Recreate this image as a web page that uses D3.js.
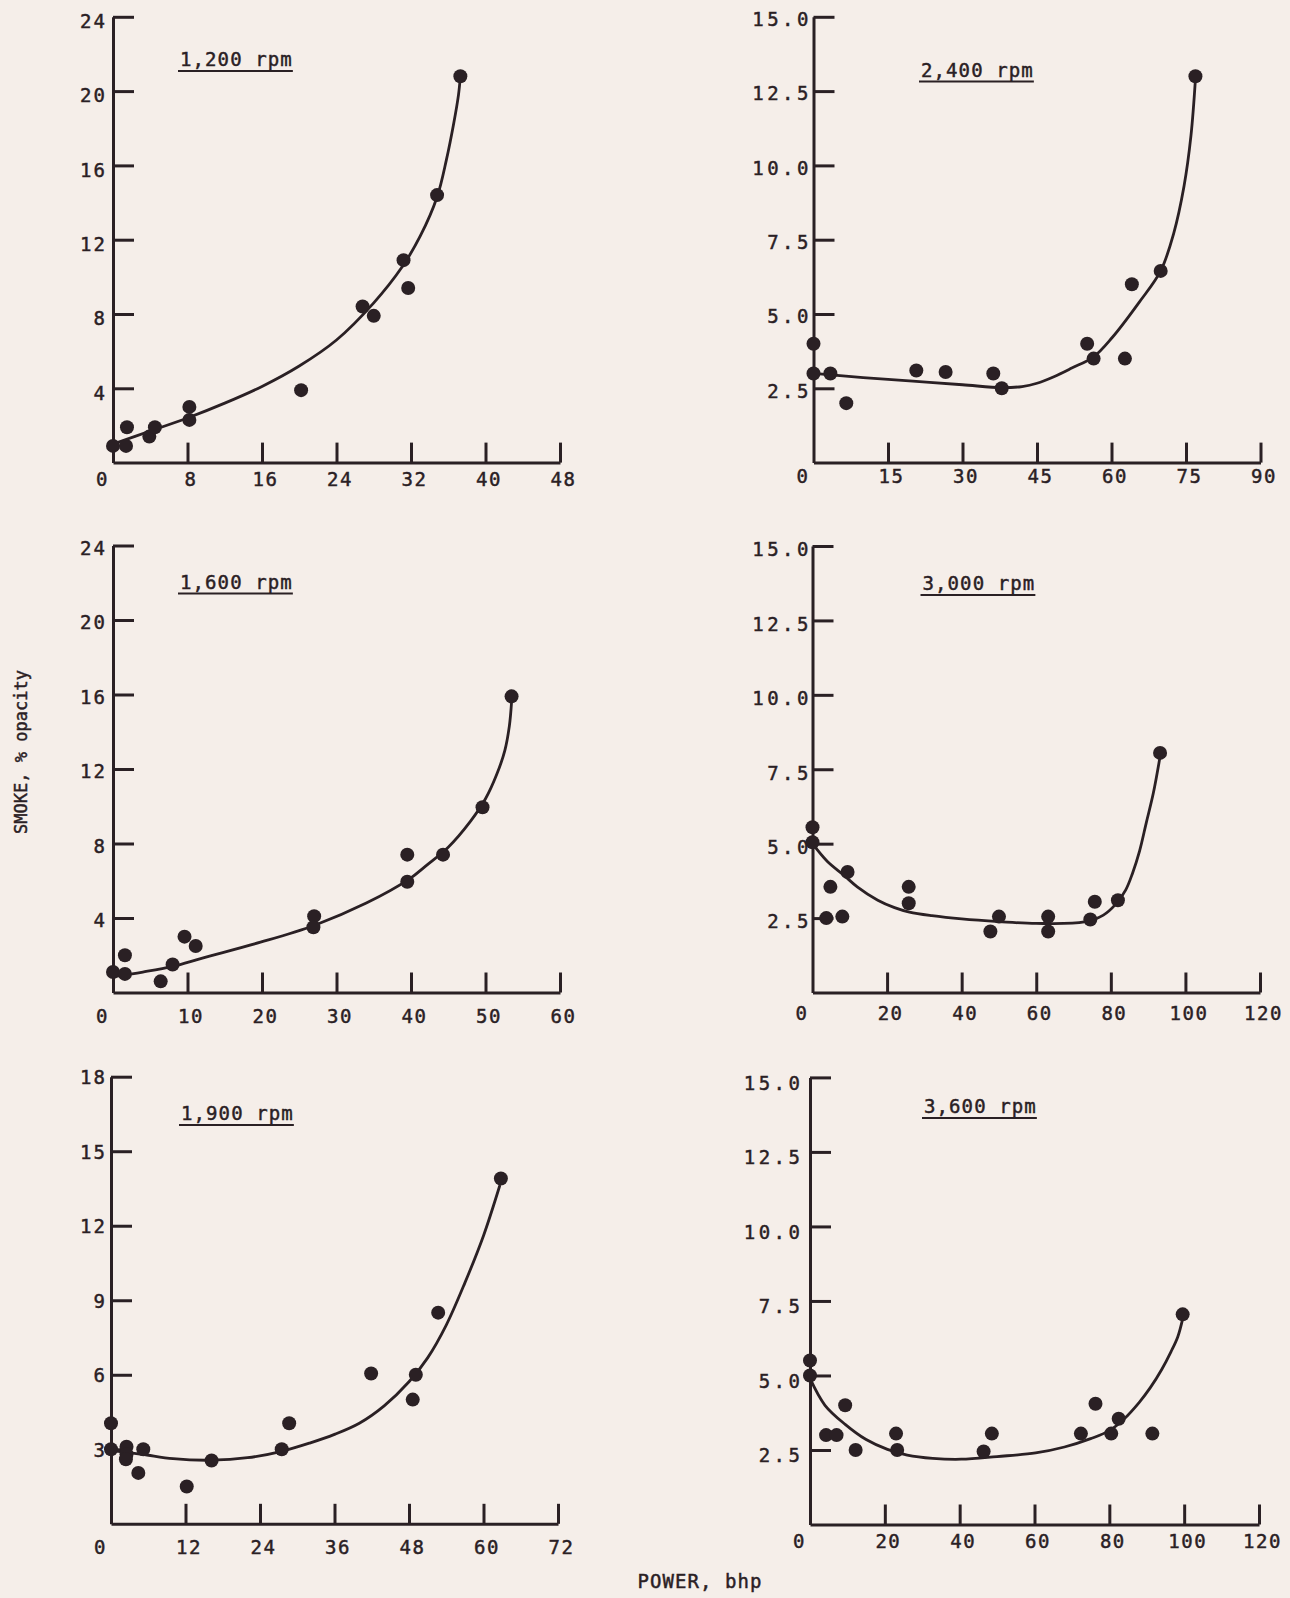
<!DOCTYPE html>
<html>
<head>
<meta charset="utf-8">
<script src="https://cdn.jsdelivr.net/npm/d3@7"></script>
<style>
  html, body { margin: 0; padding: 0; background: #f5eee9; }
  svg { display: block; }
</style>
</head>
<body>
<svg id="chart" width="1290" height="1598"></svg>
<script>
// Smoke opacity versus brake power, one panel per engine speed.
// Each panel: measured points [power bhp, smoke %], the faired curve, and axis ticks.

// 1,200 rpm
const points1200 = [[0, 0.9], [1.4, 0.9], [1.5, 1.9], [3.9, 1.4], [4.5, 1.9], [8.2, 3.0], [8.2, 2.3],
  [20.2, 3.9], [26.8, 8.4], [28.0, 7.9], [31.2, 10.9], [31.7, 9.4], [34.8, 14.4], [37.3, 20.8]];
const fit1200 = [[0, 1.0], [4, 1.7], [8, 2.4], [12, 3.2], [16, 4.1], [20, 5.2], [24, 6.6], [28, 8.6],
  [31, 10.5], [33, 12.2], [34.8, 14.3], [35.8, 16.3], [36.6, 18.3], [37.1, 19.8], [37.3, 20.8]];
const xTicks1200 = [0, 8, 16, 24, 32, 40, 48];
const yTicks1200 = [4, 8, 12, 16, 20, 24];

// 2,400 rpm
const points2400 = [[0, 4.0], [0, 3.0], [3.4, 3.0], [6.6, 2.0], [20.7, 3.1], [26.6, 3.05], [36.2, 3.0],
  [37.9, 2.5], [55.1, 4.0], [56.4, 3.5], [62.7, 3.5], [64.1, 6.0], [69.9, 6.45], [76.9, 13.0]];
const fit2400 = [[0, 3.0], [10, 2.86], [20, 2.74], [30, 2.62], [37.9, 2.52], [42, 2.56], [45, 2.67],
  [48.4, 2.89], [52, 3.18], [56.4, 3.56], [60.1, 4.2], [65.6, 5.4], [69.9, 6.45], [72.5, 7.7],
  [74.6, 9.3], [76.0, 11.0], [76.9, 12.9]];
const xTicks2400 = [0, 15, 30, 45, 60, 75, 90];
const yTicks2400 = [2.5, 5.0, 7.5, 10.0, 12.5, 15.0];

// 1,600 rpm
const points1600 = [[0, 1.1], [1.6, 1.0], [1.6, 2.0], [6.4, 0.6], [8.0, 1.5], [9.6, 3.0], [11.1, 2.5],
  [27.0, 4.1], [26.9, 3.5], [39.5, 7.4], [39.5, 5.95], [44.3, 7.4], [49.6, 9.95], [53.5, 15.9]];
const fit1600 = [[0, 0.85], [4, 1.1], [8, 1.4], [12, 1.85], [19.8, 2.7], [27, 3.6], [34, 4.8],
  [39.8, 6.1], [42, 6.8], [45, 7.8], [48, 9.2], [50, 10.4], [51.5, 11.7], [52.6, 13.0],
  [53.2, 14.3], [53.5, 15.6]];
const xTicks1600 = [0, 10, 20, 30, 40, 50, 60];
const yTicks1600 = [4, 8, 12, 16, 20, 24];

// 3,000 rpm
const points3000 = [[0, 5.55], [0, 5.05], [4.8, 3.55], [9.4, 4.05], [3.7, 2.5], [8.0, 2.55], [25.8, 3.55],
  [25.8, 3.0], [47.7, 2.05], [50.0, 2.55], [63.2, 2.55], [63.2, 2.05], [74.5, 2.45], [75.7, 3.05],
  [81.9, 3.1], [93.2, 8.05]];
const fit3000 = [[0, 5.0], [4, 4.4], [8.3, 3.95], [12, 3.55], [17.5, 3.1], [22, 2.85], [26, 2.7],
  [32, 2.58], [40, 2.47], [50, 2.38], [60, 2.32], [72.9, 2.37], [78, 2.6], [81.2, 2.95], [84, 3.45],
  [85.8, 4.0], [87.7, 4.75], [89.5, 5.7], [91.4, 6.7], [93.1, 7.85]];
const xTicks3000 = [0, 20, 40, 60, 80, 100, 120];
const yTicks3000 = [2.5, 5.0, 7.5, 10.0, 12.5, 15.0];

// 1,900 rpm
const points1900 = [[0, 4.05], [0, 3.0], [2.5, 3.1], [2.5, 2.8], [2.4, 2.6], [5.2, 3.0], [4.4, 2.05],
  [12.2, 1.5], [16.2, 2.55], [27.5, 3.0], [28.7, 4.05], [41.9, 6.05], [48.6, 5.0], [49.1, 6.0],
  [52.7, 8.5], [62.8, 13.9]];
const fit1900 = [[0, 2.95], [5, 2.8], [10, 2.62], [16.2, 2.56], [22, 2.66], [27.5, 2.92], [32, 3.25],
  [36, 3.6], [40, 4.05], [44, 4.75], [48, 5.72], [51, 6.68], [54, 8.0], [57, 9.7], [60, 11.6],
  [62.6, 13.6]];
const xTicks1900 = [0, 12, 24, 36, 48, 60, 72];
const yTicks1900 = [3, 6, 9, 12, 15, 18];

// 3,600 rpm
const points3600 = [[0, 5.5], [0, 5.0], [4.3, 3.0], [7.1, 3.0], [9.4, 4.0], [12.2, 2.5], [23.0, 3.05],
  [23.3, 2.5], [46.4, 2.45], [48.6, 3.05], [72.4, 3.05], [76.3, 4.05], [80.5, 3.05], [82.5, 3.55],
  [91.5, 3.05], [99.6, 7.05]];
const fit3600 = [[0, 4.9], [4, 4.0], [9.4, 3.36], [15, 2.85], [20.7, 2.52], [26, 2.33], [32.8, 2.22],
  [40.4, 2.19], [50, 2.28], [60.3, 2.4], [68, 2.6], [75, 2.88], [80, 3.15], [84, 3.55], [88, 4.1],
  [91, 4.6], [94, 5.2], [96.5, 5.8], [98.3, 6.3], [99.6, 6.9]];
const xTicks3600 = [0, 20, 40, 60, 80, 100, 120];
const yTicks3600 = [2.5, 5.0, 7.5, 10.0, 12.5, 15.0];

const yTitle = "SMOKE, % opacity";
const xTitle = "POWER, bhp";

// ---------------------------------------------------------------------------
const ink = "#2a2024";
const mono = "'DejaVu Sans Mono', 'Liberation Mono', monospace";
const intFmt = d3.format("d");
const decFmt = d3.format(".1f");
const fs = 19;

// Page placement of each panel (pixel boxes and label offsets).
const panels = [
  { title: "1,200 rpm", points: points1200, fit: fit1200, xTicks: xTicks1200, yTicks: yTicks1200, yFmt: intFmt,
    xr: [113, 560], yr: [462.6, 16.8], titlePos: [180, 66], xLabDy: 17, yGap: 8, yLabDy: 4, yLs: 2 },
  { title: "2,400 rpm", points: points2400, fit: fit2400, xTicks: xTicks2400, yTicks: yTicks2400, yFmt: decFmt,
    xr: [813.5, 1260.5], yr: [462.6, 16.8], titlePos: [921, 76.5], xLabDy: 14, yGap: 5, yLabDy: 2, yLs: 3.5 },
  { title: "1,600 rpm", points: points1600, fit: fit1600, xTicks: xTicks1600, yTicks: yTicks1600, yFmt: intFmt,
    xr: [113, 560], yr: [992.5, 545.5], titlePos: [180, 588.5], xLabDy: 24, yGap: 8, yLabDy: 2, yLs: 2 },
  { title: "3,000 rpm", points: points3000, fit: fit3000, xTicks: xTicks3000, yTicks: yTicks3000, yFmt: decFmt,
    xr: [812.5, 1260], yr: [992.5, 546], titlePos: [922.5, 590], xLabDy: 21, yGap: 4, yLabDy: 3, yLs: 3.5 },
  { title: "1,900 rpm", points: points1900, fit: fit1900, xTicks: xTicks1900, yTicks: yTicks1900, yFmt: intFmt,
    xr: [111, 558], yr: [1523.8, 1076.7], titlePos: [181, 1120], xLabDy: 23, yGap: 6, yLabDy: 0, yLs: 2 },
  { title: "3,600 rpm", points: points3600, fit: fit3600, xTicks: xTicks3600, yTicks: yTicks3600, yFmt: decFmt,
    xr: [810, 1259], yr: [1524.5, 1077.4], titlePos: [924, 1113], xLabDy: 17, yGap: 10, yLabDy: 5, yLs: 3.5 }
];

const svg = d3.select("#chart");
svg.append("rect").attr("width", 1290).attr("height", 1598).attr("fill", "#f5eee9");

// typewriter-like lettering: mono face with a hairline stroke for weight
function letter(sel, size, ls) {
  return sel.attr("font-family", mono).attr("font-size", size).attr("letter-spacing", ls)
    .attr("fill", ink).attr("stroke", ink).attr("stroke-width", 0.45);
}

panels.forEach(p => {
  const x = d3.scaleLinear().domain([0, d3.max(p.xTicks)]).range(p.xr);
  const y = d3.scaleLinear().domain([0, d3.max(p.yTicks)]).range(p.yr);
  const g = svg.append("g").style("color", ink);

  // vertical axis: ticks point inward, labels to the left
  const ya = g.append("g")
    .attr("transform", `translate(${x(0)},0)`)
    .call(d3.axisLeft(y).tickValues(p.yTicks).tickFormat(p.yFmt)
      .tickSizeInner(-21).tickSizeOuter(0).tickPadding(p.yGap - p.yLs));
  ya.select(".domain").attr("stroke-width", 3);
  ya.selectAll(".tick line").attr("stroke-width", 3);
  letter(ya.selectAll(".tick text"), fs, p.yLs)
    .attr("y", p.yLabDy).attr("dy", "0.36em");

  // horizontal axis: ticks point upward, labels below
  const xa = g.append("g")
    .attr("transform", `translate(0,${y(0)})`)
    .call(d3.axisBottom(x).tickValues(p.xTicks).tickFormat(intFmt)
      .tickSizeInner(-20).tickSizeOuter(0).tickPadding(0));
  xa.select(".domain").attr("stroke-width", 3);
  xa.selectAll(".tick line").attr("stroke-width", 3);
  xa.selectAll(".tick").filter(d => d === 0).select("line").remove();
  letter(xa.selectAll(".tick text"), fs, 1.5)
    .attr("y", p.xLabDy).attr("dy", "0.36em")
    .attr("dx", d => d === 0 ? -11 : 3);

  // faired curve
  const line = d3.line().x(d => x(d[0])).y(d => y(d[1])).curve(d3.curveCatmullRom.alpha(0.5));
  g.append("path").datum(p.fit)
    .attr("d", line).attr("fill", "none").attr("stroke", ink)
    .attr("stroke-width", 2.8).attr("stroke-linecap", "round").attr("stroke-linejoin", "round");

  // measured points
  g.selectAll("circle.pt").data(p.points).join("circle")
    .attr("class", "pt")
    .attr("cx", d => x(d[0])).attr("cy", d => y(d[1])).attr("r", 7)
    .attr("fill", ink);

  // underlined speed label
  const t = letter(g.append("text"), fs, 1.1)
    .attr("x", p.titlePos[0]).attr("y", p.titlePos[1])
    .text(p.title);
  const bb = t.node().getBBox();
  g.append("line")
    .attr("x1", bb.x - 2).attr("x2", bb.x + bb.width)
    .attr("y1", p.titlePos[1] + 5).attr("y2", p.titlePos[1] + 5)
    .attr("stroke", ink).attr("stroke-width", 1.8);
});

// shared axis titles
letter(svg.append("text"), 17, 0)
  .attr("transform", "translate(27,752) rotate(-90)")
  .attr("text-anchor", "middle")
  .text(yTitle);

letter(svg.append("text"), fs, 1.05)
  .attr("x", 700).attr("y", 1588)
  .attr("text-anchor", "middle")
  .text(xTitle);
</script>
</body>
</html>
